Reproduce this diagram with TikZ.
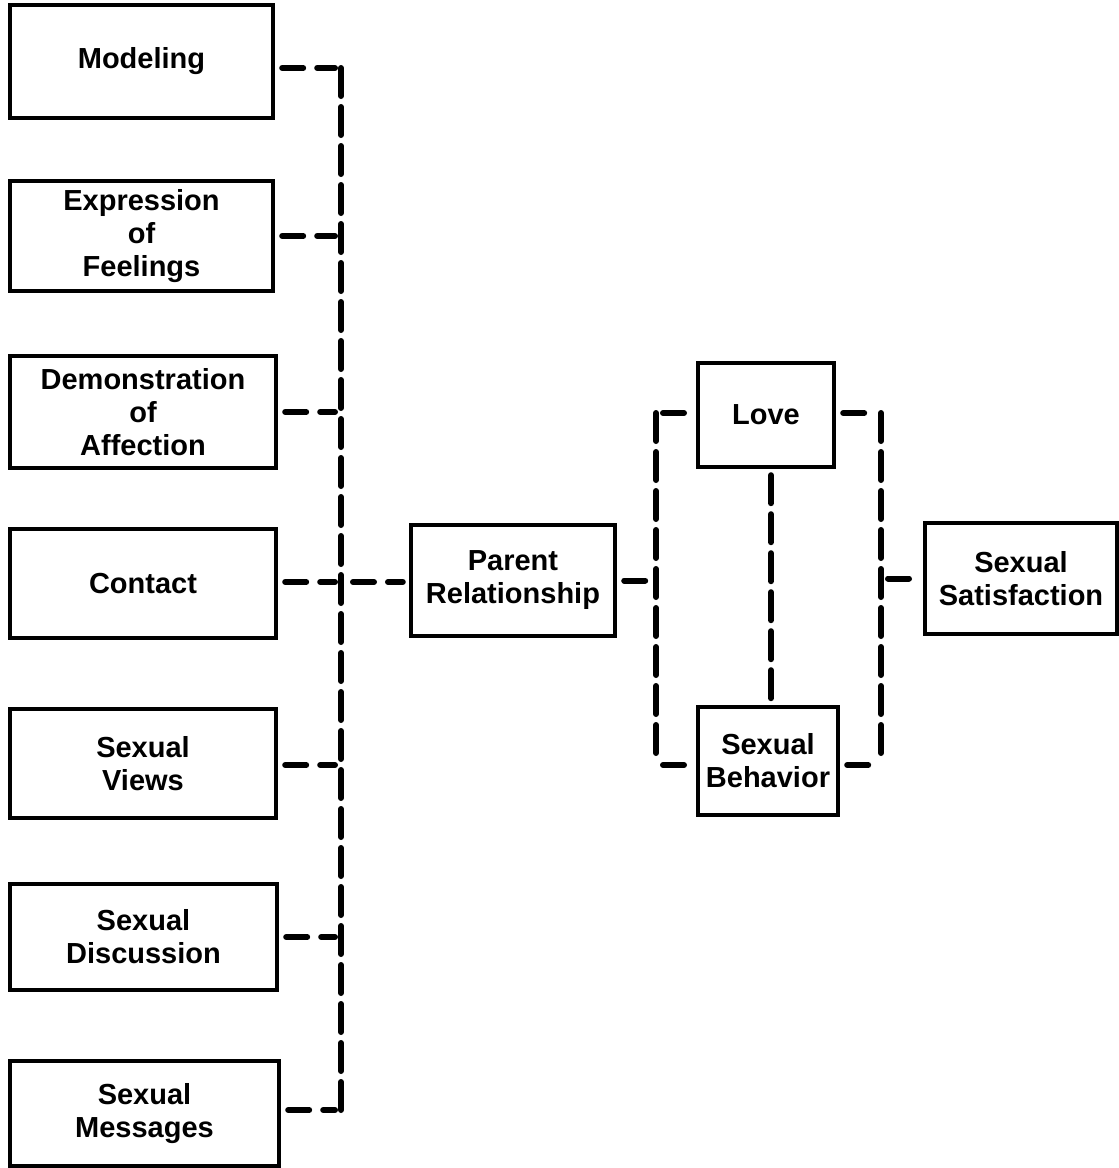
\documentclass[tikz,border=0pt]{standalone}
\usepackage{fontspec}
\setmainfont{Liberation Sans}
\begin{document}
\begin{tikzpicture}[x=0.5pt,y=-0.5pt,
  box/.style={draw=black, line width=2.2pt, fill=white, align=center,
    font=\fontsize{14.5}{16.5}\selectfont\bfseries, inner sep=0pt},
  link/.style={line width=3pt, line cap=round, dash pattern=on 10.5pt off 7pt,
    shorten <=3.5pt, shorten >=3pt},
  bus/.style={line width=3pt, line cap=round, dash pattern=on 14pt off 5.5pt}]
\useasboundingbox (0,0) rectangle (1119,1168);

% factor boxes on the left
\node[box, minimum width=131.5pt, minimum height=56.5pt] (mod) at (141.5,61.5) {Modeling};
\node[box, minimum width=131.5pt, minimum height=55pt] (expr) at (141.5,236) {Expression\\of\\Feelings};
\node[box, minimum width=133pt, minimum height=56pt] (demo) at (143,412) {Demonstration\\of\\Affection};
\node[box, minimum width=133pt, minimum height=54.5pt] (cont) at (143,583.5) {Contact};
\node[box, minimum width=133pt, minimum height=54.5pt] (views) at (143,763.5) {Sexual\\Views};
\node[box, minimum width=133.5pt, minimum height=53pt] (disc) at (143.5,937) {Sexual\\Discussion};
\node[box, minimum width=134.5pt, minimum height=52.5pt] (msg) at (144.5,1113.5) {Sexual\\Messages};

% central and right boxes
\node[box, minimum width=102pt, minimum height=55.5pt] (par) at (513,580.5) {Parent\\Relationship};
\node[box, minimum width=68pt, minimum height=52pt] (love) at (766,415) {Love};
\node[box, minimum width=70pt, minimum height=54pt] (beh) at (768,761) {Sexual\\Behavior};
\node[box, minimum width=96pt, minimum height=55.5pt] (sat) at (1021,578.5) {Sexual\\Satisfaction};

% junction points
\coordinate (j1) at (341,68);
\coordinate (j2) at (341,236);
\coordinate (j3) at (341,412);
\coordinate (j4) at (341,582);
\coordinate (j5) at (341,765);
\coordinate (j6) at (341,937);
\coordinate (j7) at (341,1110);
\coordinate (lt) at (656,413);
\coordinate (lb) at (656,765);
\coordinate (rt) at (881,413);
\coordinate (rb) at (881,765);
\coordinate (mid) at (771,0);

% collecting bus
\draw[bus] (j1) -- (j7);
\draw[link] (mod.east |- j1) -- (j1);
\draw[link] (expr.east |- j2) -- (j2);
\draw[link] (demo.east |- j3) -- (j3);
\draw[link] (cont.east |- j4) -- (j4);
\draw[link] (views.east |- j5) -- (j5);
\draw[link] (disc.east |- j6) -- (j6);
\draw[link] (msg.east |- j7) -- (j7);
\draw[link, shorten <=6pt] (j4) -- (par.west |- j4);

% parent relationship to love and behavior
\draw[link] (par.east) -- (par.east -| lt);
\draw[bus, shorten >=1.5pt] (lt) -- (lb);
\draw[link] (lt) -- (love.west |- lt);
\draw[link] (lb) -- (beh.west |- lb);
\draw[bus, shorten <=3pt] (love.south -| mid) -- (beh.north -| mid);

% love and behavior to satisfaction
\draw[bus, shorten >=1.5pt] (rt) -- (rb);
\draw[link] (love.east |- rt) -- (rt);
\draw[link] (beh.east |- rb) -- (rb);
\draw[link] (sat.west -| rt) -- (sat.west);
\end{tikzpicture}
\end{document}
